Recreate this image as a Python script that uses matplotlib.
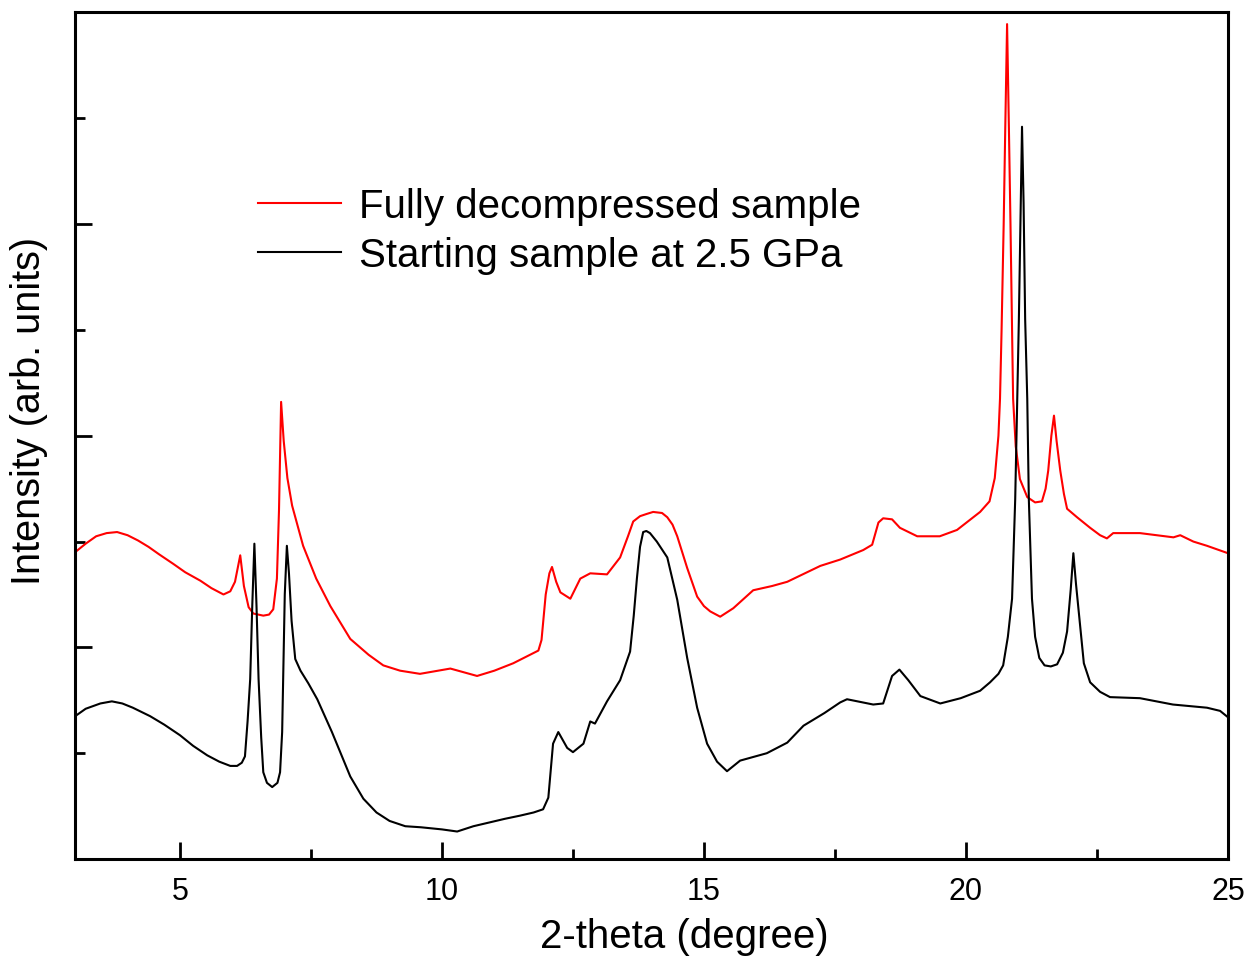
import numpy as np
import matplotlib
matplotlib.use("Agg")
import matplotlib.pyplot as plt
from matplotlib.ticker import MultipleLocator, NullFormatter

plt.rcParams['font.family'] = ['Liberation Sans', 'DejaVu Sans']

# Fully decompressed sample (red)
red_x = [3.0, 3.2, 3.4, 3.6, 3.8, 4.0, 4.2, 4.4, 4.6, 4.87, 5.1, 5.39, 5.6, 5.83, 5.96,
         6.05, 6.15, 6.22, 6.31, 6.4, 6.59, 6.7, 6.78, 6.85, 6.89, 6.93, 6.98, 7.05, 7.14,
         7.35, 7.6, 7.87, 8.25, 8.6, 8.88, 9.2, 9.58, 10.16, 10.67, 11.0, 11.36, 11.84, 11.9,
         11.98, 12.05, 12.1, 12.18, 12.26, 12.45, 12.64, 12.83, 13.15, 13.4, 13.55, 13.65,
         13.78, 13.9, 14.03, 14.2, 14.3, 14.4, 14.49, 14.68, 14.87, 15.0, 15.12, 15.31, 15.56,
         15.94, 16.3, 16.59, 17.22, 17.6, 18.04, 18.21, 18.33, 18.42, 18.59, 18.74, 19.07,
         19.5, 19.83, 20.27, 20.45, 20.55, 20.62, 20.65, 20.68, 20.72, 20.75, 20.785, 20.82,
         20.85, 20.88, 20.9, 20.95, 21.03, 21.17, 21.32, 21.45, 21.52, 21.57, 21.63, 21.68,
         21.73, 21.8, 21.87, 21.93, 22.12, 22.37, 22.56, 22.69, 22.81, 23.32, 23.96, 24.09,
         24.34, 24.6, 25.0]
red_y = [2.90, 2.98, 3.05, 3.08, 3.09, 3.06, 3.01, 2.95, 2.88, 2.79, 2.71, 2.63, 2.56, 2.50,
         2.53, 2.62, 2.87, 2.58, 2.38, 2.32, 2.30, 2.31, 2.36, 2.65, 3.3, 4.32, 3.95, 3.6,
         3.34, 2.96, 2.65, 2.39, 2.08, 1.93, 1.83, 1.78, 1.75, 1.80, 1.73, 1.78, 1.85, 1.97,
         2.07, 2.5, 2.7, 2.76, 2.62, 2.52, 2.46, 2.65, 2.70, 2.69, 2.85, 3.05, 3.19,
         3.24, 3.26, 3.28, 3.27, 3.23, 3.16, 3.05, 2.75, 2.48, 2.39, 2.34, 2.29, 2.37,
         2.54, 2.58, 2.62, 2.77, 2.83, 2.92, 2.97, 3.18, 3.22, 3.21, 3.13, 3.05,
         3.05, 3.11, 3.28, 3.38, 3.6, 4.0, 4.35, 5.0, 6.0, 6.9, 7.89, 6.9,
         6.0, 5.0, 4.35, 3.9, 3.59, 3.42, 3.37, 3.38, 3.5, 3.67, 4.0, 4.19,
         3.95, 3.67, 3.45, 3.31, 3.23, 3.13, 3.06, 3.03, 3.08, 3.08, 3.04, 3.06,
         3.00, 2.96, 2.89]

# Starting sample at 2.5 GPa (black)
black_x = [3.0, 3.2, 3.48, 3.7, 3.9, 4.1, 4.43, 4.7, 5.0, 5.25, 5.52, 5.75, 5.96, 6.09,
           6.18, 6.24, 6.29, 6.34, 6.38, 6.42, 6.46, 6.5, 6.55, 6.59, 6.66, 6.76, 6.86,
           6.91, 6.95, 6.97, 7.0, 7.04, 7.08, 7.13, 7.2, 7.3, 7.45, 7.62, 7.9, 8.25, 8.5,
           8.75, 9.0, 9.3, 9.6, 10.0, 10.29, 10.6, 10.86, 11.2, 11.49, 11.75, 11.93, 12.03,
           12.12, 12.22, 12.39, 12.5, 12.7, 12.83, 12.92, 13.15, 13.4, 13.59, 13.66, 13.72,
           13.78, 13.84, 13.9, 13.97, 14.1, 14.3, 14.49, 14.68, 14.87, 15.06, 15.25, 15.44,
           15.69, 16.2, 16.59, 16.9, 17.3, 17.6, 17.73, 18.23, 18.42, 18.59, 18.73, 18.9,
           19.13, 19.51, 19.9, 20.27, 20.46, 20.62, 20.71, 20.8, 20.88, 20.94, 20.98, 21.01,
           21.045, 21.07, 21.1, 21.13, 21.17, 21.2, 21.26, 21.32, 21.4, 21.5, 21.62, 21.74,
           21.85, 21.93, 22.0, 22.05, 22.1, 22.18, 22.25, 22.37, 22.56, 22.75, 23.32, 23.95,
           24.6, 24.85, 25.0]
black_y = [1.35, 1.42, 1.47, 1.49, 1.47, 1.43, 1.35, 1.27, 1.17, 1.07, 0.98, 0.92, 0.88, 0.88,
           0.91, 0.97, 1.3, 1.70, 2.4, 2.98, 2.4, 1.70, 1.15, 0.82, 0.72, 0.68, 0.72,
           0.82, 1.2, 1.70, 2.5, 2.96, 2.7, 2.25, 1.89, 1.78, 1.66, 1.51, 1.2, 0.78, 0.57,
           0.44, 0.36, 0.31, 0.30, 0.28, 0.26, 0.31, 0.34, 0.38, 0.41, 0.44, 0.47, 0.58,
           1.09, 1.20, 1.05, 1.01, 1.09, 1.30, 1.28, 1.49, 1.69, 1.96, 2.3, 2.65,
           2.95, 3.09, 3.1, 3.08, 3.0, 2.85, 2.45, 1.90, 1.43, 1.09, 0.92, 0.83,
           0.93, 1.00, 1.10, 1.26, 1.38, 1.48, 1.51, 1.46, 1.47, 1.73, 1.79, 1.69,
           1.54, 1.47, 1.52, 1.59, 1.67, 1.75, 1.83, 2.1, 2.46, 3.4, 4.35, 5.1,
           6.2, 6.92, 6.2, 5.1, 4.35, 3.4, 2.46, 2.1, 1.9, 1.83, 1.82, 1.84,
           1.95, 2.15, 2.55, 2.89, 2.6, 2.2, 1.85, 1.67, 1.58, 1.53, 1.52, 1.46,
           1.43, 1.40, 1.34]

fig = plt.figure(figsize=(12.53, 9.62), dpi=100)
ax = fig.add_axes([0.060, 0.106, 0.920, 0.880])

ax.plot(red_x, red_y, color='#ff0000', lw=1.5, label='Fully decompressed sample')
ax.plot(black_x, black_y, color='black', lw=1.5, label='Starting sample at 2.5 GPa')

ax.set_xlim(3, 25)
ax.set_ylim(0, 8)
ax.xaxis.set_major_locator(MultipleLocator(5))
ax.xaxis.set_minor_locator(MultipleLocator(2.5))
ax.yaxis.set_major_locator(MultipleLocator(2))
ax.yaxis.set_minor_locator(MultipleLocator(1))
ax.yaxis.set_major_formatter(NullFormatter())
ax.tick_params(which='both', direction='in', top=False, right=False, width=2)
ax.tick_params(which='major', length=12, labelsize=22, pad=12)
ax.tick_params(which='minor', length=7)
for s in ax.spines.values():
    s.set_linewidth(2.2)

ax.set_xlabel('2-theta (degree)', fontsize=29, labelpad=9)
ax.set_ylabel('Intensity (arb. units)', fontsize=28.5, labelpad=3)
ax.xaxis.set_label_coords(0.528, -0.068)
ax.yaxis.set_label_coords(-0.024, 0.53)

ax.legend(loc='upper left', bbox_to_anchor=(0.145, 0.813), frameon=False, fontsize=29,
          handlelength=2.05, handletextpad=0.45, labelspacing=0.27, borderaxespad=0)

fig.savefig('out.png', dpi=100)
